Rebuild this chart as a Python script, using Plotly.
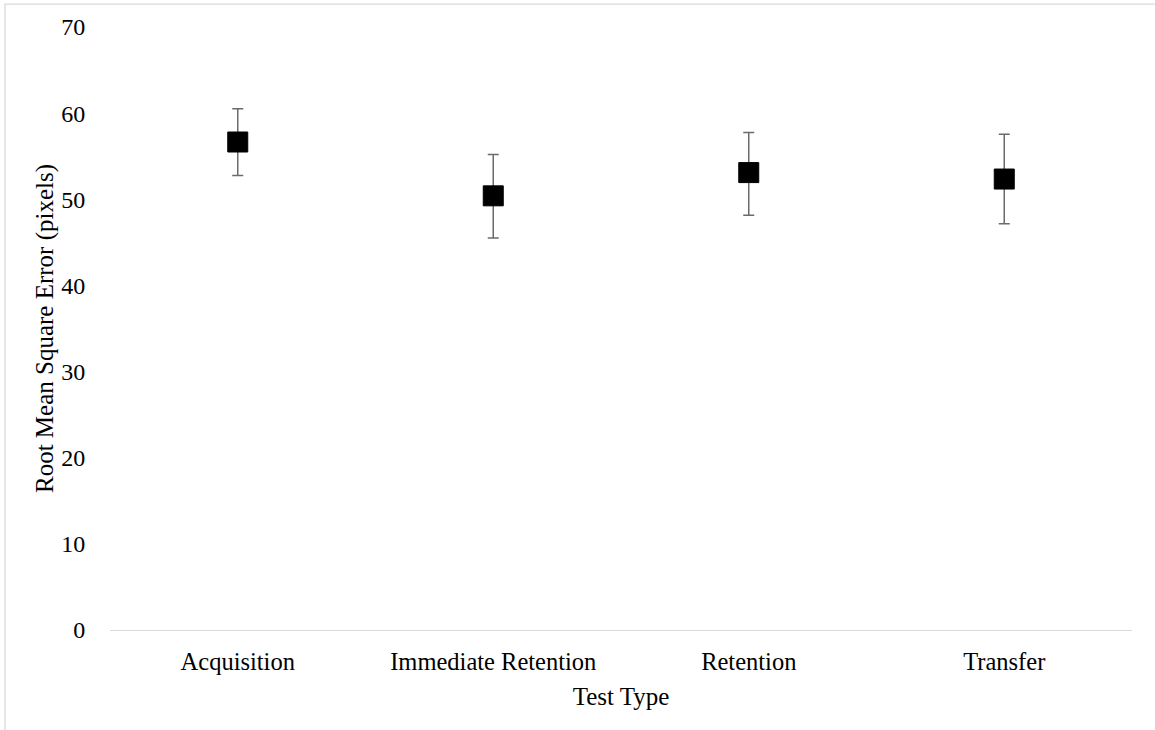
import plotly.graph_objects as go

categories = ["Acquisition", "Immediate Retention", "Retention", "Transfer"]
means = [56.65, 50.4, 53.1, 52.35]
err_plus = [3.85, 4.8, 4.65, 5.2]
err_minus = [3.9, 4.9, 4.95, 5.2]
y_ticks = [0, 10, 20, 30, 40, 50, 60, 70]

FONT = "Liberation Serif, Times New Roman, serif"

fig = go.Figure()
fig.add_trace(go.Scatter(
    x=categories, y=means, mode="markers",
    marker=dict(symbol="square", size=20, color="#000000",
                line=dict(color="#000000", width=1)),
    error_y=dict(type="data", symmetric=False, array=err_plus, arrayminus=err_minus,
                 color="#6b6b6b", thickness=1.5, width=5.5),
    showlegend=False,
))

fig.update_layout(
    width=1155, height=730,
    margin=dict(l=110, r=23, t=27, b=100),
    paper_bgcolor="white", plot_bgcolor="white",
    font=dict(family=FONT, size=24, color="#000000"),
    xaxis=dict(
        title=dict(text="Test Type", font=dict(family=FONT, size=25), standoff=13),
        range=[-0.5, len(categories) - 0.5],
        showgrid=False, zeroline=False, showline=False,
        ticks="outside", ticklen=10, tickcolor="rgba(0,0,0,0)",
        tickfont=dict(family=FONT, size=24.5),
    ),
    yaxis=dict(
        title=dict(text="Root Mean Square Error (pixels)", font=dict(family=FONT, size=25), standoff=0),
        range=[0, 70], tickvals=y_ticks,
        showgrid=False, zeroline=True, zerolinecolor="#d9d9d9", zerolinewidth=1.3,
        showline=False,
        ticks="outside", ticklen=19, tickcolor="rgba(0,0,0,0)",
        tickfont=dict(family=FONT, size=24),
    ),
    shapes=[dict(type="path", xref="paper", yref="paper",
                 path="M -0.1027 -0.3 L -0.1027 1.0381 L 1.1 1.0381",
                 line=dict(color="#d9d9d9", width=1.3))],
)

fig.write_html("out.html")
